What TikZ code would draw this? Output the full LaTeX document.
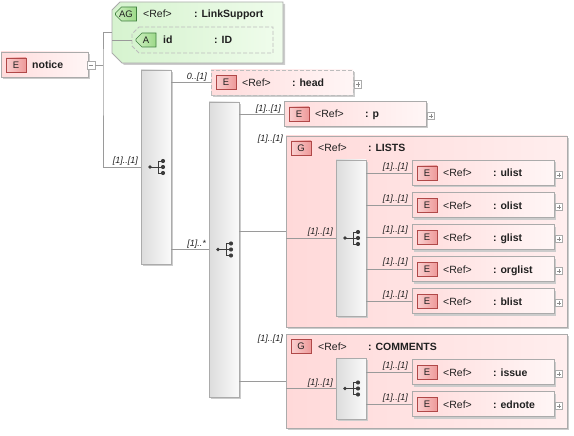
\documentclass[tikz,border=0pt]{standalone}
\usepackage{fontspec}
\setmainfont{Liberation Sans}
\usetikzlibrary{shapes.misc,shadows}
\definecolor{lnc}{HTML}{9A9A9A}
\definecolor{bordc}{HTML}{ABABAB}
\definecolor{dashc}{HTML}{BDBDBD}
\definecolor{eL}{HTML}{FFDCDC}
\definecolor{eR}{HTML}{FFF6F6}
\definecolor{gL}{HTML}{FFD9D9}
\definecolor{gR}{HTML}{FFEEEE}
\definecolor{bdgL}{HTML}{FAD0D0}
\definecolor{bdgR}{HTML}{EE9A9A}
\definecolor{bdgB}{HTML}{B04848}
\definecolor{agL}{HTML}{D6F3CF}
\definecolor{agR}{HTML}{EFFCEB}
\definecolor{abL}{HTML}{CDEFC0}
\definecolor{abR}{HTML}{9CD988}
\definecolor{abB}{HTML}{3F7F3F}
\definecolor{sqL}{HTML}{DCDCDC}
\definecolor{sqR}{HTML}{FAFAFA}
\definecolor{icn}{HTML}{3C3C3C}
\definecolor{txt}{HTML}{202020}
\tikzset{
 shad/.style={drop shadow={shadow xshift=2pt,shadow yshift=-2pt,fill=black!20,opacity=1}},
 box/.style={draw=bordc, line width=0.8pt, inner sep=0pt, outer sep=0pt, anchor=north west, shad},
 ebox/.style={box, left color=eL, right color=eR, minimum width=142pt, minimum height=25pt},
 gbox/.style={box, left color=gL, right color=gR},
 seqbox/.style={box, left color=sqL, right color=sqR, minimum width=30pt},
 badge/.style={draw=bdgB, line width=0.7pt, left color=bdgL, right color=bdgR, minimum width=20pt,
   minimum height=14pt, inner sep=0pt, text=txt, font=\fontsize{9.5}{10}\selectfont},
 gbadge/.style={badge, draw=abB, left color=abL, right color=abR, chamfered rectangle,
   chamfered rectangle corners={north west,south west}, chamfered rectangle xsep=3pt, chamfered rectangle ysep=3pt},
 reft/.style={anchor=base west, inner sep=0pt, text=txt, font=\fontsize{10.5}{12}\selectfont},
 namet/.style={anchor=base west, inner sep=0pt, text=txt, font=\fontsize{10.5}{12}\selectfont\bfseries},
 card/.style={anchor=base east, inner sep=0pt, text=txt, font=\fontsize{9}{10}\selectfont\itshape},
 conn/.style={draw=lnc, line width=0.8pt},
 expbox/.style={draw=bordc, fill=white, minimum size=7.5pt, inner sep=0pt, line width=0.6pt},
 expsign/.style={draw=black!45, line width=0.6pt},
 dashbox/.style={draw=dashc, dash pattern=on 4pt off 2pt},
 area/.style={anchor=north west, inner sep=0pt, outer sep=0pt},
 seqicon/.pic={
   \draw[icn, line width=0.7pt] (-6,0) -- (7,0) (2,-6) -- (2,6) (2,-6) -- (7,-6) (2,6) -- (7,6);
   \fill[icn] (-6,0) circle (1.8pt) (7,-6) circle (2.1pt) (7,0) circle (2.1pt) (7,6) circle (2.1pt);
 }
}
% #1 options, #2 name, #3 left x, #4 centre y, #5 type name
\newcommand\elembox[5][]{%
 \node[ebox,#1] (#2) at (#3,#4-12.5) {};
 \node[badge] (#2b) at (#3+15,#4) {E};
 \node[reft] (#2r) at (#3+31,#4+4) {<Ref>};
 \node[namet] (#2n) at (#3+81,#4+4) {: #5};
 \node[expbox] (#2x) at (#3+147,#4+2) {};
 \draw[expsign] (#2x.center) +(-2.2,0) -- +(2.2,0) +(0,-2.2) -- +(0,2.2);
}
\begin{document}
\begin{tikzpicture}[x=1pt,y=-1pt]
\useasboundingbox (0,0) rectangle (574,436);
% attribute group
\node[area, minimum width=171pt, minimum height=61pt] (ag) at (112,2) {};
\path[shad, draw=bordc, line width=0.8pt, left color=agL, right color=agR]
  ([xshift=8pt]ag.north west) -- (ag.north east) -- (ag.south east)
  -- ([xshift=10pt]ag.south west) -- ([yshift=10pt]ag.south west)
  -- ([yshift=-8pt]ag.north west) -- cycle;
\node[gbadge, minimum width=21pt] (agb) at (126,14) {AG};
\node[reft] (agr) at (143,18) {<Ref>};
\node[namet] (agn) at (194,18) {: LinkSupport};
\node[area, minimum width=141pt, minimum height=26pt] (anode) at (132,27) {};
\path[dashbox, line width=0.8pt, left color=agL, right color=agR]
  ([xshift=7pt]anode.north west) -- (anode.north east) -- (anode.south east)
  -- ([xshift=7pt]anode.south west) -- ([yshift=7pt]anode.south west)
  -- ([yshift=-7pt]anode.north west) -- cycle;
\node[gbadge] (ab) at (146,40) {A};
\node[namet] (an) at (163,44) {id};
\node[namet] (at) at (214,44) {: ID};
\draw[conn] (ag.west |- anode.west) -- (anode.west);
% notice
\node[ebox, minimum width=87pt] (notice) at (1,52) {};
\node[badge] (noticeb) at (16,65) {E};
\node[namet] (noticen) at (32,69) {notice};
\node[expbox, minimum size=8pt] (noticex) at (91,65) {};
\draw[expsign] (noticex.center) +(-2.4,0) -- +(2.4,0);
\coordinate (j1) at (103,65);
% sequences
\node[seqbox, minimum height=194pt] (seq1) at (141,70) {};
\node[seqbox, minimum height=295pt] (seq2) at (209,102) {};
% elements
\elembox[dashbox]{head}{211}{82.5}{head}
\elembox{p}{284}{114}{p}
% groups
\node[gbox, minimum width=281pt, minimum height=191pt] (lists) at (286,136) {};
\node[badge] (listsb) at (301,148) {G};
\node[reft] (listsr) at (318,152) {<Ref>};
\node[namet] (listsn) at (368,152) {: LISTS};
\node[gbox, minimum width=281pt, minimum height=94pt] (comm) at (286,334) {};
\node[badge] (commb) at (301,346) {G};
\node[reft] (commr) at (318,350) {<Ref>};
\node[namet] (commn) at (368,350) {: COMMENTS};
\node[seqbox, minimum height=156pt] (seq3) at (336,160) {};
\node[seqbox, minimum height=61pt] (seq4) at (336,358) {};
\elembox{ulist}{412}{173}{ulist}
\elembox{olist}{412}{205}{olist}
\elembox{glist}{412}{237}{glist}
\elembox{orglist}{412}{269}{orglist}
\elembox{blist}{412}{301}{blist}
\elembox{issue}{412}{372}{issue}
\elembox{ednote}{412}{404}{ednote}
% icons
\pic at (seq1.center) {seqicon};
\pic at (seq2.center) {seqicon};
\pic at (seq3.center) {seqicon};
\pic at (seq4.center) {seqicon};
% connectors
\draw[conn] (noticex.east) -- (j1);
\draw[conn] (ag.west) -| (j1) |- (seq1.west);
\draw[conn] (seq1.east |- head.west) -- (head.west);
\draw[conn] (seq1.east |- seq2.west) -- (seq2.west);
\draw[conn] (seq2.east |- p.west) -- (p.west);
\draw[conn] (seq2.east |- lists.west) -- (lists.west);
\draw[conn] (seq2.east |- comm.west) -- (comm.west);
\draw[conn] (lists.west |- seq3.west) -- (seq3.west);
\draw[conn] (comm.west |- seq4.west) -- (seq4.west);
\foreach \n in {ulist,olist,glist,orglist,blist}
  \draw[conn] (seq3.east |- \n.west) -- (\n.west);
\foreach \n in {issue,ednote}
  \draw[conn] (seq4.east |- \n.west) -- (\n.west);
% cardinalities
\node[card] (c1) at (138,163.5) {[1]..[1]};
\node[card] (c2) at (207,79.5) {0..[1]};
\node[card] (c3) at (206,246.5) {[1]..*};
\node[card] (c4) at (281,111.5) {[1]..[1]};
\node[card] (c5) at (283,142) {[1]..[1]};
\node[card] (c6) at (333,234.5) {[1]..[1]};
\node[card] (c7) at (408,169) {[1]..[1]};
\node[card] (c8) at (408,201) {[1]..[1]};
\node[card] (c9) at (408,233) {[1]..[1]};
\node[card] (c10) at (408,265) {[1]..[1]};
\node[card] (c11) at (408,297) {[1]..[1]};
\node[card] (c12) at (283,341) {[1]..[1]};
\node[card] (c13) at (333,385.5) {[1]..[1]};
\node[card] (c14) at (408,368) {[1]..[1]};
\node[card] (c15) at (408,400) {[1]..[1]};
\end{tikzpicture}
\end{document}
